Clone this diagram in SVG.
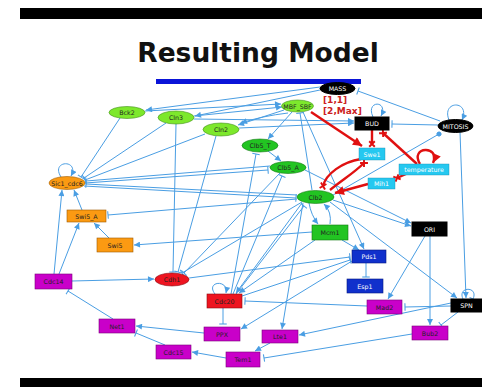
<svg xmlns="http://www.w3.org/2000/svg" width="482" height="387" viewBox="0 0 482 387">
<style>
.e{fill:none;stroke:#4a9ee3;stroke-width:1}
.a{marker-end:url(#ah)}
.i{marker-end:url(#tb)}
.d{marker-end:url(#dot)}
.r{fill:none;stroke:#e01010;stroke-width:2.4}
.ra{marker-end:url(#rah)}
.ri{marker-end:url(#rx)}
.lab{font-family:"DejaVu Sans",sans-serif;font-size:6.3px;text-anchor:middle;dominant-baseline:central;fill:#222}
.w{fill:#fff}
.lg{fill:#7de82c;stroke:#3f8f18;stroke-width:.6}
.dg{fill:#22c422;stroke:#137a13;stroke-width:.6}
.or{fill:#fb9a12;stroke:#a05a00;stroke-width:.6}
.mg{fill:#c900c9;stroke:#7a007a;stroke-width:.6}
.rd{fill:#ee1420;stroke:#8a0a10;stroke-width:.6}
.bl{fill:#1030cc;stroke:#061a80;stroke-width:.6}
.cy{fill:#25c8f0;stroke:#1a8ab0;stroke-width:.4}
.bk{fill:#000;stroke:#000}
.rt{font-family:"DejaVu Sans",sans-serif;font-weight:bold;font-size:9px;fill:#cc2020}
</style>
<defs>
<marker id="ah" viewBox="0 0 10 10" refX="10" refY="5" markerWidth="7" markerHeight="6" orient="auto" markerUnits="userSpaceOnUse"><path d="M0,0L10,5L0,10z" fill="#4a9ee3"/></marker>
<marker id="tb" viewBox="0 0 4 10" refX="2" refY="5" markerWidth="3" markerHeight="8" orient="auto" markerUnits="userSpaceOnUse"><path d="M2,0V10" stroke="#4a9ee3" stroke-width="1.4"/></marker>
<marker id="dot" viewBox="0 0 10 10" refX="5" refY="5" markerWidth="5" markerHeight="5" orient="auto" markerUnits="userSpaceOnUse"><circle cx="5" cy="5" r="5" fill="#4a9ee3"/></marker>
<marker id="rah" viewBox="0 0 10 10" refX="10" refY="5" markerWidth="10" markerHeight="9" orient="auto" markerUnits="userSpaceOnUse"><path d="M0,0L10,5L0,10z" fill="#e01010"/></marker>
<marker id="rx" viewBox="0 0 10 10" refX="5" refY="5" markerWidth="8" markerHeight="8" orient="auto" markerUnits="userSpaceOnUse"><path d="M1.5,1.5L8.5,8.5M1.5,8.5L8.5,1.5" stroke="#e01010" stroke-width="2.4"/></marker>
</defs>

<!-- frame bars and title -->
<rect x="20" y="8" width="462" height="11" fill="#000"/>
<rect x="20" y="378" width="462" height="9" fill="#000"/>
<text x="258" y="62" font-family="DejaVu Sans,sans-serif" font-weight="bold" font-size="26.5" text-anchor="middle" fill="#111">Resulting Model</text>
<rect x="156" y="79" width="205" height="5" fill="#0a14d8"/>

<!-- connectors -->
<g id="edges">
<path class="e a" d="M320,87L146,110"/>
<path class="e a" d="M320,90L195,116"/>
<path class="e a" d="M145,111L281,104"/>
<path class="e a" d="M194,116L282,107"/>
<path class="e a" d="M284,110L238,125"/>
<path class="e a" d="M288,113Q262,116 241,123"/>
<path class="e a" d="M239,128L354,123"/>
<path class="e a" d="M194,119L354,121"/>
<path class="e a" d="M292,112L268,139"/>
<path class="e a" d="M268,151L281,161"/>
<path class="e i" d="M312,190L300,113"/>
<path class="e i" d="M120,118L81,177"/>
<path class="e i" d="M166,123L84,178"/>
<path class="e i" d="M205,134L85,180"/>
<path class="e i" d="M270,166L86,181"/>
<path class="e i" d="M297,195L86,184"/>
<path class="e i" d="M85,183L268,170"/>
<path class="e i" d="M84,186L296,198"/>
<path class="e i" d="M176,124L173,272"/>
<path class="e i" d="M216,136L178,272"/>
<path class="e i" d="M302,202L182,273"/>
<path class="e i" d="M280,173L184,273"/>
<path class="e i" d="M189,278L350,257"/>
<path class="e i" d="M242,296L350,260"/>
<path class="e a" d="M72,281L154,279"/>
<path class="e a" d="M54,274L62,190"/>
<path class="e a" d="M59,274L79,223"/>
<path class="e a" d="M82,210L74,190"/>
<path class="e a" d="M109,238L94,223"/>
<path class="e a" d="M312,232L134,245"/>
<path class="e i" d="M297,199L108,215"/>
<path class="e a" d="M309,203Q311,215 318,224"/>
<path class="e a" d="M330,224Q332,212 324,204"/>
<path class="e a" d="M342,240L359,250"/>
<path class="e a" d="M303,112L364,249"/>
<path class="e i" d="M366,263L366,277"/>
<path class="e a" d="M352,261L241,329"/>
<path class="e a" d="M333,200L411,226"/>
<path class="e a" d="M305,170L411,223"/>
<path class="e a" d="M330,202L457,298"/>
<path class="e a" d="M425,236L388,299"/>
<path class="e a" d="M430,236L430,325"/>
<path class="e a" d="M460,132L466,298"/>
<path class="e i" d="M463,299C457,286 479,286 473,299"/>
<path class="e i" d="M451,306L405,307"/>
<path class="e i" d="M458,312L441,325"/>
<path class="e a" d="M451,303L299,335"/>
<path class="e a" d="M303,203L282,329"/>
<path class="e a" d="M270,343L255,351"/>
<path class="e i" d="M412,334L264,358"/>
<path class="e a" d="M226,358L192,352"/>
<path class="e i" d="M165,345L136,333"/>
<path class="e a" d="M204,333L136,326"/>
<path class="e i" d="M113,319L68,291"/>
<path class="e i" d="M223,308L223,324"/>
<path class="e i" d="M367,306L245,301"/>
<path class="e a" d="M302,203L236,293"/>
<path class="e a" d="M315,240L239,293"/>
<path class="e a" d="M215,294C205,281 229,279 226,293"/>
<path class="e i" d="M231,294L256,154"/>
<path class="e i" d="M233,294L282,176"/>
<path class="e i" d="M236,294L304,206"/>
<path class="e i" d="M438,125L392,124"/>
<path class="e i" d="M440,121L358,91"/>
<path class="e d" d="M333,195L439,134"/>
<path class="e a" d="M61,177C50,160 80,159 71,176"/>
<path class="e a" d="M373,117C365,100 389,100 381,116"/>
<path class="e a" d="M449,120C441,100 471,100 462,120"/>
<!-- red interactions -->
<path class="r ra" d="M311,112L362,146"/>
<path class="r ri" d="M372,130L372,144"/>
<path class="r ri" d="M417,164L383,133"/>
<path class="r ri" d="M406,174L397,178"/>
<path class="r ra" d="M368,184L335,193"/>
<path class="r ri" d="M361,159C342,162 326,174 323,186"/>
<path class="r ri" d="M330,190C342,180 354,173 364,163"/>
<path class="r ra" d="M420,164C409,146 441,145 433,163"/>
</g>

<text class="rt" x="323" y="103">[1,1]</text>
<text class="rt" x="323" y="113.5">[2,Max]</text>

<!-- nodes -->
<g id="Bck2"><ellipse class="lg" cx="127" cy="112.5" rx="18" ry="6"/><text class="lab" x="127" y="112.5">Bck2</text></g>
<g id="Cln3"><ellipse class="lg" cx="176" cy="117.5" rx="18" ry="6.5"/><text class="lab" x="176" y="117.5">Cln3</text></g>
<g id="Cln2"><ellipse class="lg" cx="221" cy="129.5" rx="18" ry="6.5"/><text class="lab" x="221" y="129.5">Cln2</text></g>
<g id="MBF_SBF"><ellipse class="lg" cx="297.5" cy="106" rx="16" ry="6"/><text class="lab" x="297.5" y="106" font-size="5.6">MBF_SBF</text></g>
<g id="MASS"><ellipse class="bk" cx="337.5" cy="88.5" rx="17.5" ry="6"/><text class="lab w" x="337.5" y="88.5">MASS</text></g>
<g id="Clb5_T"><ellipse class="dg" cx="260" cy="145.5" rx="18" ry="6.5"/><text class="lab" x="260" y="145.5">Clb5_T</text></g>
<g id="Clb5_A"><ellipse class="dg" cx="288" cy="167.5" rx="18" ry="6"/><text class="lab" x="288" y="167.5">Clb5_A</text></g>
<g id="Clb2"><ellipse class="dg" cx="315.5" cy="197" rx="18.5" ry="6.5"/><text class="lab" x="315.5" y="197">Clb2</text></g>
<g id="Sic1_cdc6"><ellipse class="or" cx="67" cy="183" rx="18" ry="6.5"/><text class="lab" x="67" y="183" font-size="5.8">Sic1_cdc6</text></g>
<g id="Cdh1"><ellipse class="rd" cx="172" cy="279.5" rx="17" ry="6.5"/><text class="lab" x="172" y="279.5">Cdh1</text></g>
<g id="MITOSIS"><ellipse class="bk" cx="455.5" cy="126" rx="17.5" ry="6.5"/><text class="lab w" x="455.5" y="126" font-size="5.8">MITOSIS</text></g>
<g id="BUD"><rect class="bk" x="355" y="117" width="34" height="13"/><text class="lab w" x="372" y="123.5">BUD</text></g>
<g id="Swe1"><rect class="cy" x="359" y="148" width="26" height="12"/><text class="lab w" x="372" y="154">Swe1</text></g>
<g id="temperature"><rect class="cy" x="399" y="164" width="50" height="11"/><text class="lab w" x="424" y="169.5">temperature</text></g>
<g id="Mih1"><rect class="cy" x="368" y="178" width="27" height="11"/><text class="lab w" x="381.5" y="183.5">Mih1</text></g>
<g id="Mcm1"><rect class="dg" x="312" y="225" width="36" height="15"/><text class="lab" x="330" y="232.5">Mcm1</text></g>
<g id="ORI"><rect class="bk" x="412" y="222" width="35" height="14"/><text class="lab w" x="429.5" y="229">ORI</text></g>
<g id="Pds1"><rect class="bl" x="352" y="250" width="34" height="13"/><text class="lab w" x="369" y="256.5">Pds1</text></g>
<g id="Esp1"><rect class="bl" x="347" y="279" width="36" height="14"/><text class="lab w" x="365" y="286">Esp1</text></g>
<g id="Swi5_A"><rect class="or" x="67" y="210" width="39" height="12"/><text class="lab" x="86.5" y="216">Swi5_A</text></g>
<g id="Swi5"><rect class="or" x="97" y="238" width="36" height="14"/><text class="lab" x="115" y="245">Swi5</text></g>
<g id="Cdc14"><rect class="mg" x="35" y="274" width="37" height="15"/><text class="lab" x="53.5" y="281.5">Cdc14</text></g>
<g id="Cdc20"><rect class="rd" x="207" y="294" width="35" height="14"/><text class="lab" x="224.5" y="301">Cdc20</text></g>
<g id="Mad2"><rect class="mg" x="367" y="300" width="35" height="14"/><text class="lab" x="384.5" y="307">Mad2</text></g>
<g id="SPN"><rect class="bk" x="451" y="299" width="31" height="13"/><text class="lab w" x="466.5" y="305.5">SPN</text></g>
<g id="Net1"><rect class="mg" x="99" y="319" width="36" height="14"/><text class="lab" x="117" y="326">Net1</text></g>
<g id="PPX"><rect class="mg" x="204" y="327" width="36" height="14"/><text class="lab" x="222" y="334">PPX</text></g>
<g id="Lte1"><rect class="mg" x="262" y="330" width="36" height="13"/><text class="lab" x="280" y="336.5">Lte1</text></g>
<g id="Bub2"><rect class="mg" x="412" y="326" width="36" height="14"/><text class="lab" x="430" y="333">Bub2</text></g>
<g id="Cdc15"><rect class="mg" x="156" y="345" width="35" height="14"/><text class="lab" x="173.5" y="352">Cdc15</text></g>
<g id="Tem1"><rect class="mg" x="226" y="352" width="34" height="15"/><text class="lab" x="243" y="359.5">Tem1</text></g>
</svg>
